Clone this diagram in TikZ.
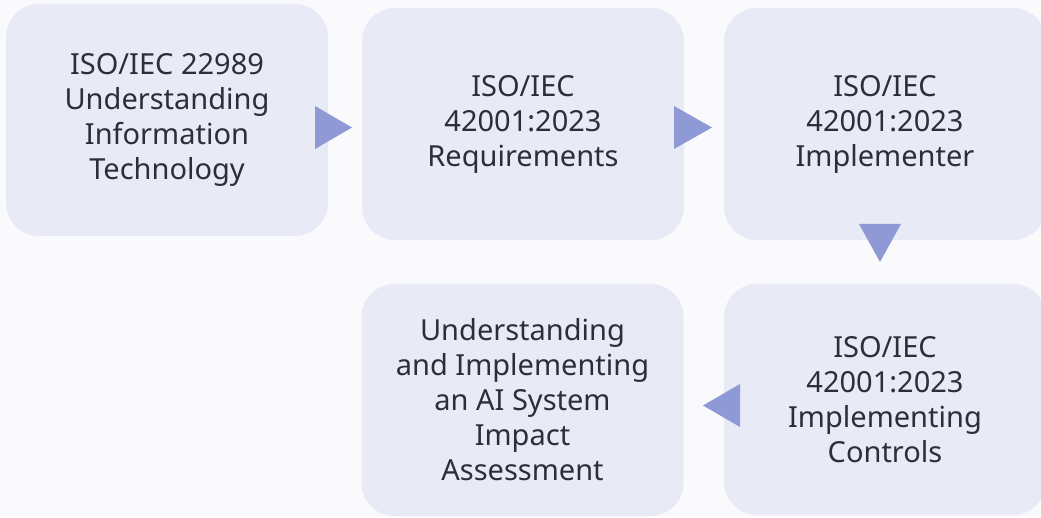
\documentclass[tikz,border=0pt]{standalone}
\usepackage{fontspec}
\setmainfont{Noto Sans}
\definecolor{bgc}{HTML}{FAFAFC}
\definecolor{boxc}{HTML}{E8EAF6}
\definecolor{triC}{HTML}{8F99D6}
\definecolor{txtc}{HTML}{2B2F38}
\tikzset{
  stepbox/.style={rectangle, rounded corners=33pt, fill=boxc, draw=none,
    minimum width=322pt, minimum height=232pt, inner sep=0pt,
    align=center, text=txtc,
    font=\fontsize{29pt}{35pt}\selectfont},
  arrowtri/.style={fill=triC, draw=none}
}
\begin{document}
\begin{tikzpicture}[x=1pt,y=1pt]
\fill[bgc] (0,0) rectangle (1041,517);
\useasboundingbox (0,0) rectangle (1041,517);
\begin{scope}
\clip (0,0) rectangle (1041,517);
\node[stepbox] (b1) at (167,397) {ISO/IEC 22989\\Understanding\\Information\\Technology};
\node[stepbox] (b2) at (523,393) {ISO/IEC\\42001:2023\\Requirements};
\node[stepbox] (b3) at (885,393) {ISO/IEC\\42001:2023\\Implementer};
\node[stepbox, minimum height=231pt] (b4) at (885,117.5) {ISO/IEC\\42001:2023\\Implementing\\Controls};
\node[stepbox] (b5) at (522.5,117) {Understanding\\and Implementing\\an AI System\\Impact\\Assessment};
% arrowheads between steps
\fill[arrowtri] (315,411) -- (352,389.5) -- (315,368) -- cycle;
\fill[arrowtri] (674,411) -- (712,389.5) -- (674,368) -- cycle;
\fill[arrowtri] (859,293) -- (880,255) -- (901,293) -- cycle;
\fill[arrowtri] (740,133) -- (703,111.5) -- (740,90) -- cycle;
\end{scope}
\end{tikzpicture}
\end{document}
